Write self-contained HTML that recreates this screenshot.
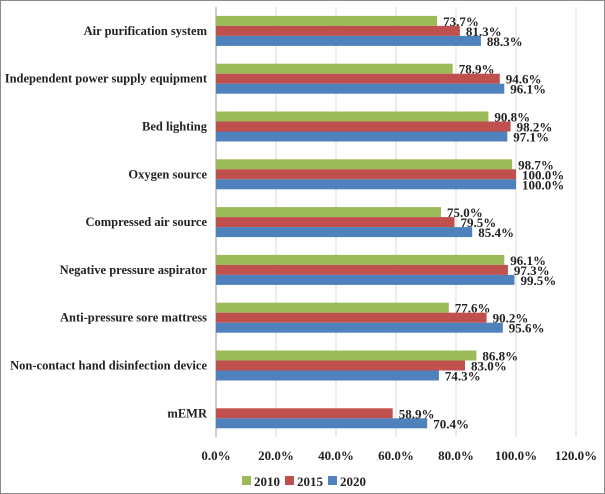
<!DOCTYPE html>
<html><head><meta charset="utf-8"><style>
html,body{margin:0;padding:0;background:#fff}
svg{display:block}
text{font-family:"Liberation Serif",serif;font-weight:bold;fill:#222}
</style></head><body>
<svg id="chart" width="605" height="494" viewBox="0 0 605 494" xmlns="http://www.w3.org/2000/svg">
<rect x="0.5" y="0.5" width="604" height="493" fill="#fff" stroke="#8a8a8a"/>
<g id="grid"></g><g id="bars"></g><g id="labels"></g><g id="legend"></g>
</svg>
<script>
const categories=["Air purification system","Independent power supply equipment","Bed lighting","Oxygen source","Compressed air source","Negative pressure aspirator","Anti-pressure sore mattress","Non-contact hand disinfection device","mEMR"];
const s2010=[73.7,78.9,90.8,98.7,75.0,96.1,77.6,86.8,null];
const s2015=[81.3,94.6,98.2,100.0,79.5,97.3,90.2,83.0,58.9];
const s2020=[88.3,96.1,97.1,100.0,85.4,99.5,95.6,74.3,70.4];
const seriesNames=["2010","2015","2020"];
const seriesColors=["#9BBB59","#C0504D","#4F81BD"];
const ticks=[0,20,40,60,80,100,120];

const NS="http://www.w3.org/2000/svg";
const plotX0=216,pxPer=3,plotTop=7,band=47.8,barH=10;
const X=v=>plotX0+v*pxPer;
const Y=i=>plotTop+band*i+band/2;
function mk(p,tag,a){const e=document.createElementNS(NS,tag);for(const k in a)e.setAttribute(k,a[k]);p.appendChild(e);return e;}
const grid=document.getElementById('grid'),bars=document.getElementById('bars'),labels=document.getElementById('labels'),legend=document.getElementById('legend');
ticks.forEach(t=>{
  const l=mk(grid,'line',{x1:X(t),x2:X(t),y1:7,y2:437,stroke:t===0?'#999':'#d9d9d9','stroke-width':1});
  
  
  const tx=mk(grid,'text',{x:X(t),y:460,'text-anchor':'middle','font-size':13});
  tx.textContent=t.toFixed(1)+'%';
  
  
});
const all=[s2010,s2015,s2020];
categories.forEach((c,i)=>{
  const cy=Y(i);
  const cl=mk(labels,'text',{x:207,y:cy+4,'text-anchor':'end','font-size':12.5});
  cl.textContent=c;
  
  
  all.forEach((s,k)=>{
    const v=s[i]; if(v==null) return;
    const y=cy-15+k*barH;
    const r=mk(bars,'rect',{x:X(0),y:y,width:X(v)-X(0),height:barH,fill:seriesColors[k]});
    
    
    const t=mk(labels,'text',{x:X(v)+6,y:y+barH/2+5,'font-size':13});
    t.textContent=v.toFixed(1)+'%';
    
    
  });
});
seriesNames.forEach((n,k)=>{
  const lx=242+k*43;
  const r=mk(legend,'rect',{x:lx,y:476,width:9,height:9,fill:seriesColors[k]});
  
  
  const t=mk(legend,'text',{x:lx+12,y:486,'font-size':13});
  t.textContent=n;
  
  
});
</script>
</body></html>
